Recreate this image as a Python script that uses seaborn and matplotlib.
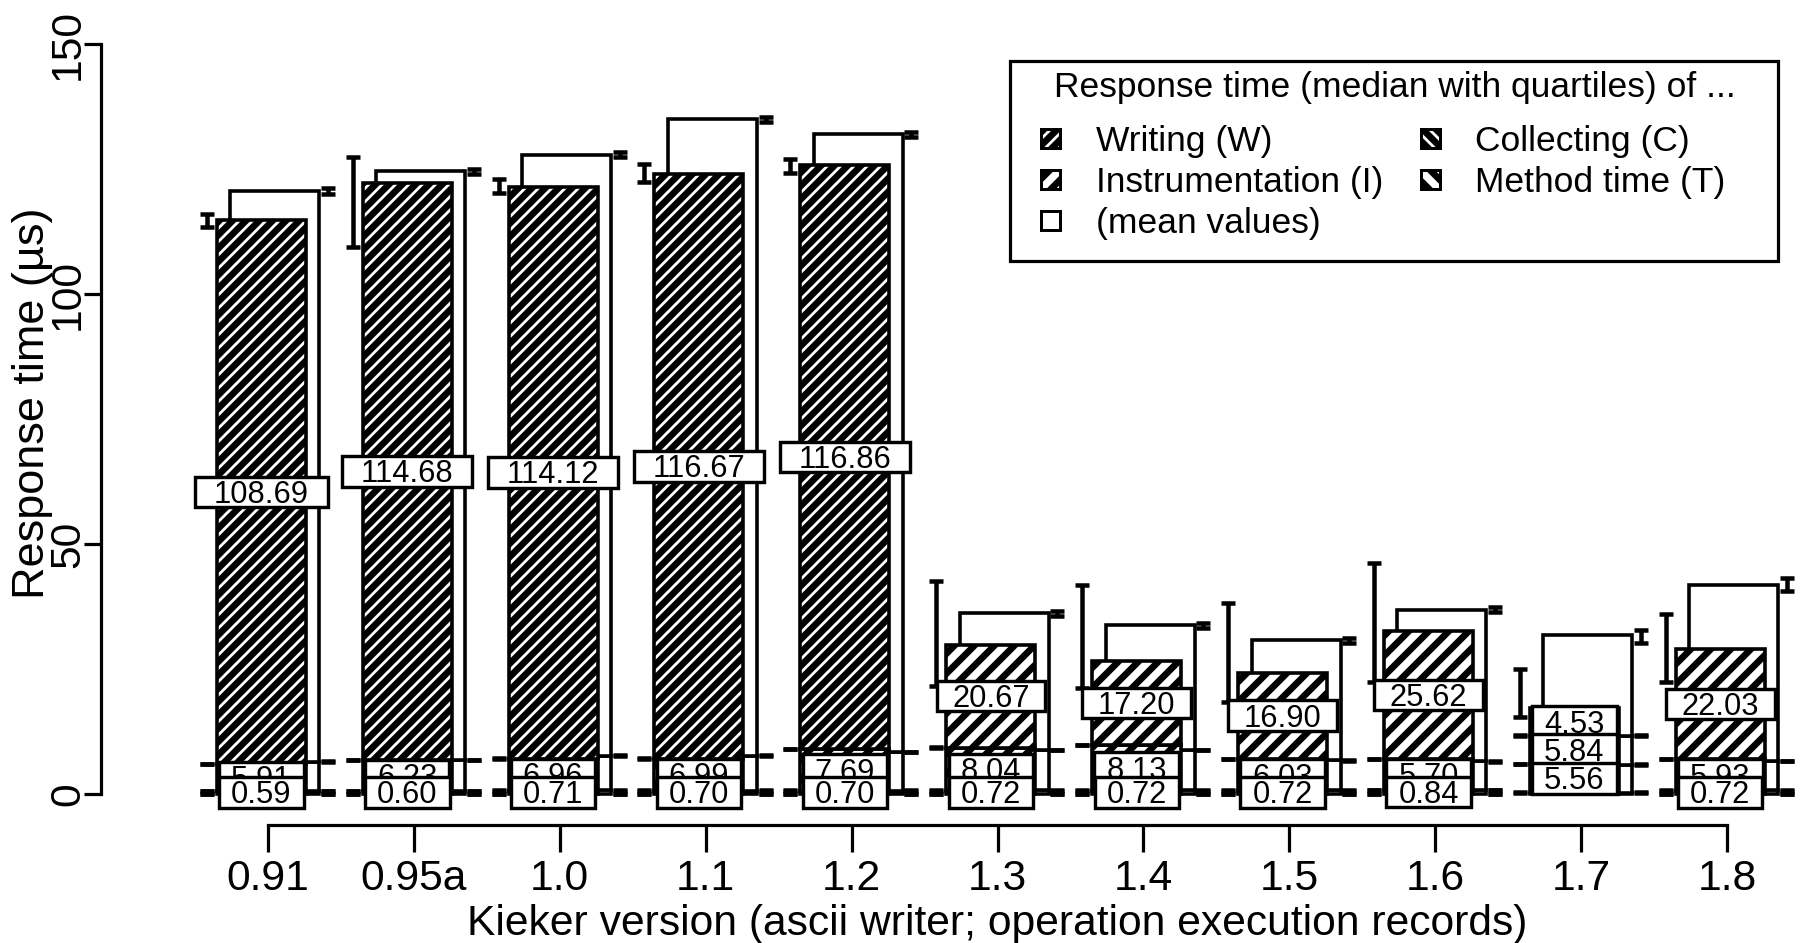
import matplotlib
matplotlib.use("Agg")
import matplotlib.pyplot as plt
import seaborn as sns
import numpy as np
from matplotlib.patches import Rectangle
from matplotlib.textpath import TextPath
from matplotlib.font_manager import FontProperties

# ---------------- data ----------------
versions = ["0.91", "0.95a", "1.0", "1.1", "1.2", "1.3", "1.4", "1.5", "1.6", "1.7", "1.8"]

# medians, stacked bottom -> top (T, C, I, W)
med_T = [0, 0, 0, 0, 0, 0, 0, 0, 0, 0.3, 0]
med_C = [0.6, 0.6, 0.7, 0.7, 0.7, 0.7, 0.7, 0.7, 0.8, 5.7, 0.7]
med_I = [5.4, 6.2, 6.4, 6.4, 8.3, 8.6, 9.1, 6.3, 6.2, 5.7, 6.3]
med_W = [108.8, 115.4, 114.4, 116.9, 116.8, 20.6, 16.8, 17.3, 25.6, 5.5, 22.0]

# quartiles of the total response time
q_lo = [113.4, 109.4, 120.3, 122.4, 124.2, 21.6, 21.2, 18.4, 22.4, 15.4, 22.4]
q_hi = [116.1, 127.4, 123.1, 126.1, 127.0, 42.6, 41.8, 38.2, 46.2, 25.0, 36.0]

# mean values
mean_T = [0, 0, 0, 0, 0, 0, 0, 0, 0, 0.3, 0]
mean_C = [0.59, 0.60, 0.71, 0.70, 0.70, 0.72, 0.72, 0.72, 0.84, 5.56, 0.72]
mean_I = [5.91, 6.23, 6.96, 6.99, 7.69, 8.04, 8.13, 6.03, 5.70, 5.84, 5.93]
mean_W = [108.69, 114.68, 114.12, 116.67, 116.86, 20.67, 17.20, 16.90, 25.62, 4.53, 22.03]
mean_total = [120.6, 124.6, 127.9, 135.0, 132.0, 36.2, 33.8, 30.8, 36.9, 31.8, 41.9]
ci_lo = [120.0, 124.1, 127.4, 134.5, 131.5, 35.7, 33.3, 30.3, 36.4, 30.2, 40.6]
ci_hi = [121.2, 125.1, 128.4, 135.5, 132.5, 36.7, 34.3, 31.3, 37.4, 32.8, 43.2]

legend_title = "Response time (median with quartiles) of ..."
legend_labels = ["Writing (W)", "Instrumentation (I)", "(mean values)",
                 "Collecting (C)", "Method time (T)"]
x_label = "Kieker version (ascii writer; operation execution records)"
y_label = "Response time (\u00b5s)"
y_ticks = [0, 50, 100, 150]

# ---------------- styles ----------------
DPI = 120
W_PX, H_PX = 1804, 943


def pt(px):
    return px * 72.0 / DPI


HATCH_W_DENSE = "///"
HATCH_I = "//"
HATCH_C = "\\\\\\"
HATCH_T = "\\\\"
w_hatch = [HATCH_W_DENSE if i < 5 else HATCH_I for i in range(len(versions))]

LABEL_PT = 18.5
AX_PT = 25.6
YLAB_PT = 27.0
LEG_PT = 21.2

sns.set_theme(style="ticks")
plt.rcParams["font.family"] = ["Liberation Sans", "DejaVu Sans"]
plt.rcParams["hatch.linewidth"] = 4.0
plt.rcParams["hatch.color"] = "black"
plt.rcParams["text.color"] = "black"

fig = plt.figure(figsize=(W_PX / DPI, H_PX / DPI), dpi=DPI)
ax_l, ax_r, ax_t, ax_b = 101, 1795, 10, 900
ax = fig.add_axes([ax_l / W_PX, 1 - ax_b / H_PX, (ax_r - ax_l) / W_PX, (ax_b - ax_t) / H_PX])
x0_px, xstep = 268.0, 145.9
y0_px, ystep = 794.0, 5.0
ax.set_xlim((ax_l - x0_px) / xstep, (ax_r - x0_px) / xstep)
ax.set_ylim((y0_px - ax_b) / ystep, (y0_px - ax_t) / ystep)
ax.set_facecolor("white")

n = len(versions)
x = np.arange(n)
BW = 0.61
OFF = 0.046
EDGE = pt(3.6)

# ---- mean bars (white, behind) ----
bottom = np.zeros(n)
for seg in (mean_T, mean_C, mean_I):
    seg = np.asarray(seg, float)
    m = seg > 0
    ax.bar(x[m] + OFF, seg[m], bottom=bottom[m], width=BW, facecolor="white",
           edgecolor="black", linewidth=EDGE, zorder=1)
    bottom = bottom + seg
mean_low_cum = [np.cumsum([mean_T[i], mean_C[i], mean_I[i]]) for i in range(n)]
ax.bar(x + OFF, np.asarray(mean_total) - bottom, bottom=bottom, width=BW,
       facecolor="white", edgecolor="black", linewidth=EDGE, zorder=1)

# ---- median stacked bars ----
bottom = np.zeros(n)
for seg, hatches in ((med_T, [HATCH_T] * n), (med_C, [HATCH_C] * n),
                     (med_I, [HATCH_I] * n), (med_W, w_hatch)):
    seg = np.asarray(seg, float)
    for i in range(n):
        if seg[i] <= 0:
            continue
        ax.bar(x[i] - OFF, seg[i], bottom=bottom[i], width=BW, facecolor="white",
               edgecolor="black", hatch=hatches[i], linewidth=EDGE, zorder=3)
    bottom = bottom + seg


# ---- error bars ----
def errbar(xc, lo, hi):
    mid = (lo + hi) / 2.0
    h = (hi - lo) / 2.0
    ax.errorbar([xc], [mid], yerr=[[h], [h]], fmt="none", ecolor="black",
                elinewidth=pt(4.5), capsize=pt(7), capthick=pt(4.5), zorder=5)


for i in range(n):
    med_cum = np.cumsum([med_T[i], med_C[i], med_I[i]])
    for b in med_cum:
        errbar(x[i] - 0.42, b - 0.05, b + 0.05)
    errbar(x[i] - 0.42, q_lo[i], q_hi[i])
    for b in mean_low_cum[i]:
        errbar(x[i] + 0.41, b - 0.05, b + 0.05)
    errbar(x[i] + 0.41, ci_lo[i], ci_hi[i])

# ---- boxed mean labels ----
fig.canvas.draw()
renderer = fig.canvas.get_renderer()
fp = FontProperties(family="Liberation Sans", size=LABEL_PT)
cap_px = TextPath((0, 0), "0", size=LABEL_PT, prop=fp).get_extents().height * DPI / 72.0
z = 10
for i in range(n):
    c0 = med_T[i]
    c1 = c0 + med_C[i]
    c2 = c1 + med_I[i]
    c3 = c2 + med_W[i]
    items = [((c2 + c3) / 2, mean_W[i]), ((c1 + c2) / 2, mean_I[i]), ((c0 + c1) / 2, mean_C[i])]
    for k, (yc, val) in enumerate(items):
        s = f"{val:.2f}"
        w_px, _, _ = renderer.get_text_width_height_descent(s, fp, ismath=False)
        bw = 1.4 * w_px / xstep
        bh = 1.4 * cap_px / ystep
        xc = x[i] - OFF
        ax.add_patch(Rectangle((xc - bw / 2, yc - bh / 2), bw, bh, facecolor="white",
                               edgecolor="black", linewidth=pt(3.4), zorder=z + 2 * k))
        ax.text(xc, yc - cap_px / 2 / ystep, s, ha="center", va="baseline",
                fontproperties=fp, color="black", zorder=z + 2 * k + 1)

# ---- axes styling ----
for side in ("top", "right"):
    ax.spines[side].set_visible(False)
ax.spines["left"].set_bounds(0, 150)
ax.spines["bottom"].set_position(("data", -6.2))
ax.spines["bottom"].set_bounds(0, n - 1)
for side in ("left", "bottom"):
    ax.spines[side].set_linewidth(pt(3.2))
    ax.spines[side].set_color("black")

ax.set_xticks(x)
ax.set_xticklabels(versions, fontsize=AX_PT)
ax.set_yticks(y_ticks)
ax.set_yticklabels([str(v) for v in y_ticks], fontsize=AX_PT, rotation=90, ha="center", va="center")
ax.tick_params(axis="both", colors="black", width=pt(3.2))
ax.tick_params(axis="x", length=pt(27), pad=pt(7))
ax.tick_params(axis="y", length=pt(17), pad=pt(16))


def fx(px):
    return px / W_PX


def fy(py):
    return 1 - py / H_PX


fig.text(fx(997.5), fy(935), x_label, ha="center", va="baseline", fontsize=AX_PT)
fig.text(fx(33), fy(403), y_label, ha="center", va="center", rotation=90, fontsize=YLAB_PT)

# ---- legend (drawn as a framed key) ----
fig.add_artist(Rectangle((fx(1010), fy(261)), fx(1778) - fx(1010), fy(61) - fy(261),
                         transform=fig.transFigure, facecolor="white", edgecolor="black",
                         linewidth=pt(3.2), zorder=20))
fig.text(fx(1395), fy(97), legend_title, ha="center", va="baseline", fontsize=LEG_PT, zorder=21)
leg_cap = 0.716 * LEG_PT * DPI / 72.0
leg_hatches = [HATCH_W_DENSE, HATCH_I, None, HATCH_C, HATCH_T]
leg_cols = [(1041, 1096), (1041, 1096), (1041, 1096), (1421, 1475), (1421, 1475)]
leg_rows = [138, 179, 220, 138, 179]
SQ = 19
for lab, hat, (px_patch, px_text), ry in zip(legend_labels, leg_hatches, leg_cols, leg_rows):
    fig.add_artist(Rectangle((fx(px_patch), fy(ry + SQ / 2)), SQ / W_PX, SQ / H_PX,
                             transform=fig.transFigure, facecolor="white", edgecolor="black",
                             hatch=hat, linewidth=pt(3), zorder=21))
    fig.text(fx(px_text), fy(ry + leg_cap / 2), lab, ha="left", va="baseline",
             fontsize=LEG_PT, zorder=21)

fig.savefig("out.png", dpi=DPI, facecolor="white")
